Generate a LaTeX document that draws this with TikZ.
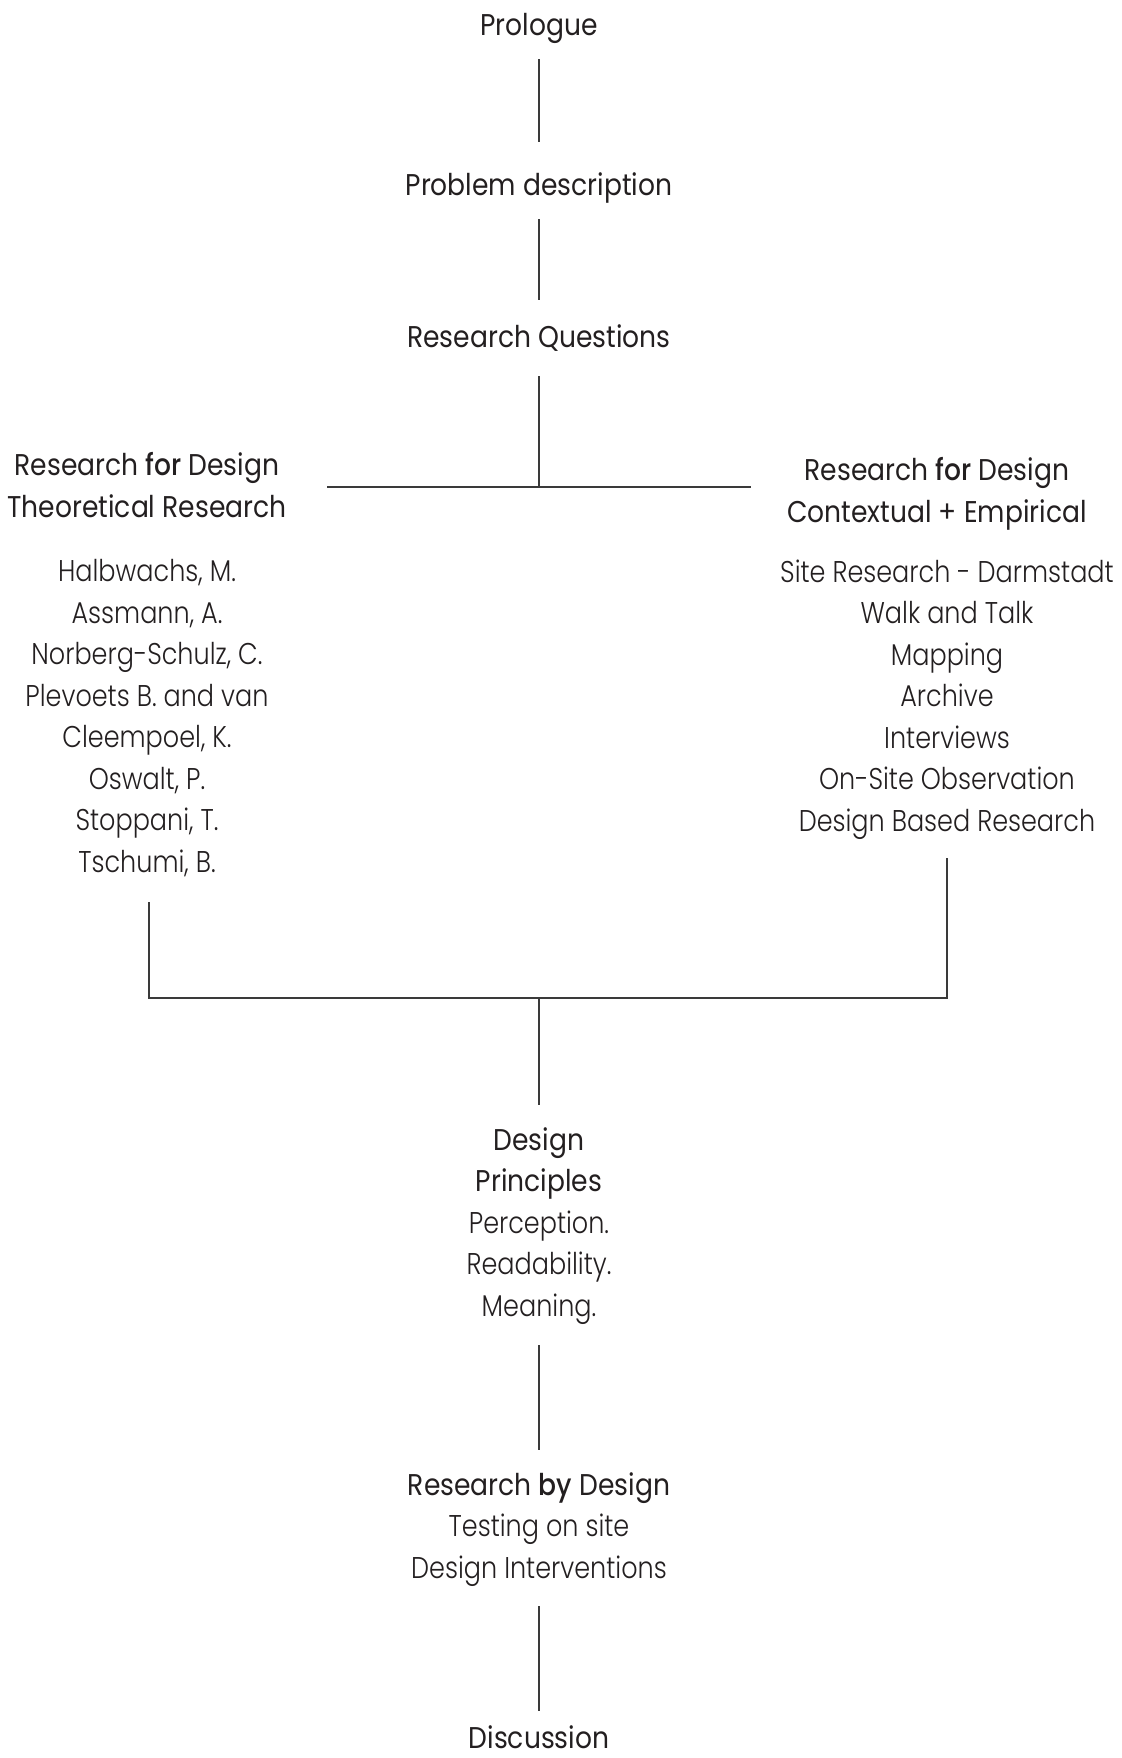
\documentclass[tikz,border=0pt]{standalone}
\usepackage{fontspec}
\setmainfont{Poppins}[FakeStretch=0.885]
\newfontfamily\lightfont{Poppins Light}[FakeStretch=0.85]
\newfontfamily\medfont{Poppins Medium}[FakeStretch=0.885]
\usetikzlibrary{calc}
\definecolor{ink}{HTML}{231F20}
\definecolor{lineg}{HTML}{3A3A3A}
\tikzset{
  every node/.style={inner sep=0pt, outer sep=0pt, text=ink},
  head/.style={font={\fontsize{15}{20.75}\selectfont}, align=center, anchor=base},
  list/.style={font={\lightfont\fontsize{15}{20.75}\selectfont}, align=center, anchor=base},
  conn/.style={draw=lineg, line width=0.7pt},
}
\newcommand{\strongw}[1]{{\medfont #1}}
\begin{document}
\begin{tikzpicture}[x=0.5pt,y=-0.5pt]
\useasboundingbox (0,0) rectangle (1121,1758);

% multi-line nodes: the base anchor is the baseline of the last line
\node[head] (prologue) at (539,35) {Prologue};
\node[head] (problem) at (539,195) {Problem description};
\node[head] (questions) at (539,347) {Research Questions};

\node[head] (theohead) at (147,517) {Research \strongw{for} Design\\Theoretical Research};
\node[list] (theolist) at (147,872) {Halbwachs, M.\\Assmann, A.\\Norberg-Schulz, C.\\Plevoets B. and van\\Cleempoel, K.\\Oswalt, P.\\Stoppani, T.\\Tschumi, B.};

\node[head] (conthead) at (937,522) {Research \strongw{for} Design\\Contextual + Empirical};
\node[list] (contlist) at (947,831) {Site Research - Darmstadt\\Walk and Talk\\Mapping\\Archive\\Interviews\\On-Site Observation\\Design Based Research};

\node[head] (principles) at (539,1316) {Design\\Principles\\{\lightfont Perception.}\\{\lightfont Readability.}\\{\lightfont Meaning.}};
\node[head] (rbd) at (539,1578) {Research \strongw{by} Design\\{\lightfont Testing on site}\\{\lightfont Design Interventions}};
\node[head] (discussion) at (539,1748) {Discussion};

\coordinate (j1) at (539,487);
\coordinate (hl) at (327,487);
\coordinate (hr) at (751,487);
\coordinate (bl) at (149,998);
\coordinate (br) at (947,998);
\coordinate (j2) at (539,998);

\draw[conn] ($(prologue.base)+(0,24)$) -- ($(problem.base)+(0,-53)$);
\draw[conn] ($(problem.base)+(0,24)$) -- ($(questions.base)+(0,-47)$);
\draw[conn] ($(questions.base)+(0,29)$) -- (j1);
\draw[conn] (hl) -- (hr);
\draw[conn] ($(theolist.base)+(2,30)$) -- (bl) -- (br) -- ($(contlist.base)+(0,27)$);
\draw[conn] (j2) -- ($(principles.base)+(0,-211)$);
\draw[conn] ($(principles.base)+(0,29)$) -- ($(rbd.base)+(0,-128)$);
\draw[conn] ($(rbd.base)+(0,28)$) -- ($(discussion.base)+(0,-37)$);
\end{tikzpicture}
\end{document}
